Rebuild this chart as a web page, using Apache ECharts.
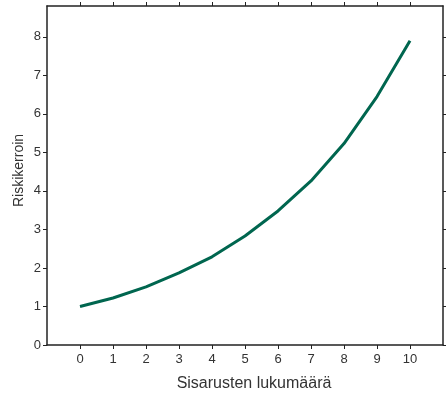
<!DOCTYPE html>
<html>
<head>
<meta charset="utf-8">
<script src="https://cdn.jsdelivr.net/npm/echarts@6/dist/echarts.min.js"></script>
<style>
  html, body { margin: 0; padding: 0; background: #fff; }
  #chart { width: 446px; height: 398px; }
</style>
</head>
<body>
<div id="chart"></div>
<script>
// Number of siblings and the corresponding relative risk
const siblings = [0, 1, 2, 3, 4, 5, 6, 7, 8, 9, 10];
const riskRatio = [1.0, 1.22, 1.51, 1.87, 2.29, 2.83, 3.48, 4.26, 5.23, 6.45, 7.90];
const xTicks = [0, 1, 2, 3, 4, 5, 6, 7, 8, 9, 10];
const yTicks = [0, 1, 2, 3, 4, 5, 6, 7, 8];

const font = 'Liberation Sans, Arial, sans-serif';
const axisColor = '#222';
const textColor = '#333';
const lineColor = '#00664f';

const chart = echarts.init(document.getElementById('chart'), null, { renderer: 'canvas' });

const frameLine = { show: true, onZero: false, lineStyle: { color: axisColor, width: 1.5 } };

chart.setOption({
  animation: false,
  grid: { left: 47, right: 3, top: 6, bottom: 53, containLabel: false, outerBoundsMode: 'none' },
  xAxis: [
    {
      type: 'value', position: 'bottom', min: -1, max: 11, interval: 1,
      axisLine: frameLine,
      axisTick: { show: true, length: 4, customValues: xTicks, lineStyle: { color: axisColor } },
      axisLabel: { customValues: xTicks, color: textColor, fontFamily: font, fontSize: 13, margin: 8 },
      splitLine: { show: false },
      name: 'Sisarusten lukumäärä', nameLocation: 'middle', nameGap: 31, nameMoveOverlap: false,
      nameTextStyle: { color: textColor, fontFamily: font, fontSize: 16, padding: [0, 0, 0, 18] }
    },
    {
      type: 'value', position: 'top', min: -1, max: 11, interval: 1,
      axisLine: frameLine,
      axisTick: { show: true, length: 4, customValues: xTicks, lineStyle: { color: axisColor } },
      axisLabel: { show: false },
      splitLine: { show: false }
    }
  ],
  yAxis: [
    {
      type: 'value', position: 'left', min: 0, max: 8.8, interval: 1,
      axisLine: frameLine,
      axisTick: { show: true, length: 4, customValues: yTicks, lineStyle: { color: axisColor } },
      axisLabel: { customValues: yTicks, color: textColor, fontFamily: font, fontSize: 13, margin: 6 },
      splitLine: { show: false },
      name: 'Riskikerroin', nameLocation: 'middle', nameGap: 21, nameMoveOverlap: false,
      nameTextStyle: { color: textColor, fontFamily: font, fontSize: 14, padding: [0, 0, 0, 10] }
    },
    {
      type: 'value', position: 'right', min: 0, max: 8.8, interval: 1,
      axisLine: frameLine,
      axisTick: { show: true, length: 4, customValues: yTicks, lineStyle: { color: axisColor } },
      axisLabel: { show: false },
      splitLine: { show: false }
    }
  ],
  series: [
    {
      type: 'line',
      xAxisIndex: 0, yAxisIndex: 0,
      data: siblings.map((s, i) => [s, riskRatio[i]]),
      showSymbol: false,
      lineStyle: { color: lineColor, width: 3 }
    }
  ]
});
</script>
</body>
</html>
